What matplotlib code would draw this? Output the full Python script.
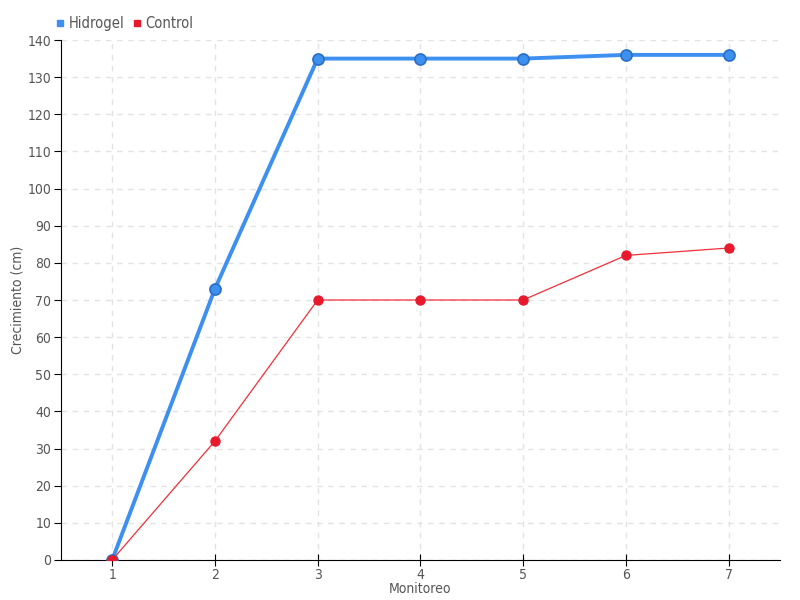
import matplotlib
matplotlib.use("Agg")
import matplotlib.pyplot as plt
from matplotlib.lines import Line2D

# Datos de crecimiento por monitoreo
monitoreo = [1, 2, 3, 4, 5, 6, 7]
hidrogel = [0, 73, 135, 135, 135, 136, 136]
control = [0, 32, 70, 70, 70, 82, 84]

plt.rcParams['font.family'] = ['DejaVu Sans']
plt.rcParams['font.stretch'] = 'condensed'

fig = plt.figure(figsize=(8, 6), dpi=100)
ax = fig.add_axes([0.076, 0.0667, 0.899, 0.8666])

ax.plot(monitoreo, hidrogel, color='#3d8ff0', lw=2.8, marker='o', ms=8,
        mfc='#3d8ff0', mec='#2a6fc4', mew=1.2, zorder=3)
ax.plot(monitoreo, control, color='#f0303a', lw=0.9, marker='o', ms=6.5,
        mfc='#e8192c', mec='#e8192c', zorder=4)

ax.set_xlim(0.5, 7.5)
ax.set_ylim(0, 140)
ax.set_xticks(monitoreo)
ax.set_yticks(range(0, 141, 10))
ax.grid(True, color='#e3e3e3', ls=(0, (4, 4)), lw=1)
ax.set_axisbelow(True)
for s in ['top', 'right']:
    ax.spines[s].set_visible(False)
ax.spines['left'].set_color('black')
ax.spines['bottom'].set_color('black')
ax.tick_params(axis='both', colors='black', labelcolor='#555555', labelsize=10,
               length=5, pad=2)
ax.tick_params(axis='x', direction='inout', length=8)

ax.set_xlabel('Monitoreo', color='#555555', fontsize=10, labelpad=0)
ax.set_ylabel('Crecimiento (cm)', color='#555555', fontsize=10, labelpad=2)

handles = [Line2D([], [], ls='', marker='s', ms=5, color='#3d8ff0'),
           Line2D([], [], ls='', marker='s', ms=5, color='#e8192c')]
fig.legend(handles, ['Hidrogel', 'Control'], loc='upper left',
           bbox_to_anchor=(0.05, 0.995), ncol=2, frameon=False,
           handletextpad=0.05, columnspacing=0.4, handlelength=1,
           labelcolor='#555555', fontsize=10.5)

fig.savefig('out.png', dpi=100)
